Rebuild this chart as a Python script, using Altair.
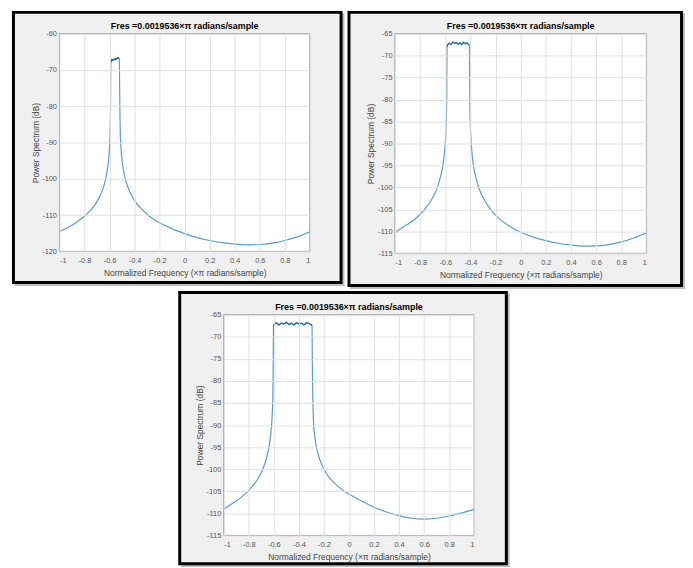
import altair as alt
import pandas as pd

# ---------------- data ----------------
x_ticks = [-1, -0.8, -0.6, -0.4, -0.2, 0, 0.2, 0.4, 0.6, 0.8, 1]
p1_y_ticks = [-120, -110, -100, -90, -80, -70, -60]
p23_y_ticks = [-115, -110, -105, -100, -95, -90, -85, -80, -75, -70, -65]

title_text = "Fres =0.0019536×π radians/sample"
x_title = "Normalized Frequency (×π radians/sample)"
y_title = "Power Spectrum (dB)"

p1_freq = [-1.0, -0.95, -0.9, -0.85, -0.8, -0.75, -0.72, -0.69, -0.66, -0.64,
           -0.62, -0.61, -0.6, -0.595, -0.592, -0.59,
           -0.587, -0.581, -0.575, -0.569, -0.563, -0.557, -0.551, -0.545, -0.539, -0.533, -0.527, -0.522,
           -0.519, -0.517, -0.515, -0.51, -0.5, -0.49, -0.47, -0.45, -0.42, -0.38,
           -0.33, -0.27, -0.2, -0.1, 0.0, 0.1, 0.2, 0.3, 0.4, 0.5, 0.6, 0.7,
           0.8, 0.9, 1.0]
p1_db = [-114.5, -113.7, -112.8, -111.6, -110.3, -108.6, -107.3, -105.6, -103.4, -101.3,
         -98.0, -95.5, -91.1, -86.8, -80.0, -68.0,
         -67.3, -67.1, -67.4, -67.1, -67.2, -66.9, -67.1, -66.8, -66.9, -66.6, -66.8, -66.9,
         -76.0, -82.0, -86.3, -90.6, -94.9, -97.4, -100.6, -102.6, -104.9, -107.0,
         -108.8, -110.6, -112.1, -113.8, -115.1, -116.2, -117.0, -117.6, -118.0, -118.2, -118.1, -117.7,
         -117.0, -116.0, -114.6]

p2_freq = [-1.0, -0.95, -0.9, -0.85, -0.8, -0.75, -0.72, -0.69, -0.66, -0.64,
           -0.62, -0.61, -0.6, -0.595, -0.59, -0.588, -0.586,
           -0.581, -0.567, -0.553, -0.539, -0.525, -0.511, -0.497, -0.483, -0.469, -0.455, -0.441, -0.427, -0.413,
           -0.408, -0.406, -0.403, -0.398, -0.39, -0.38, -0.365, -0.34, -0.31, -0.28,
           -0.25, -0.2, -0.15, -0.1, -0.05, 0.0, 0.1, 0.2, 0.3, 0.4, 0.5, 0.6, 0.7, 0.8, 0.9, 1.0]
p2_db = [-110.3, -109.3, -108.4, -107.4, -106.1, -104.5, -103.3, -101.8, -99.7, -97.8,
         -95.1, -93.0, -89.9, -87.5, -83.2, -78.0, -68.0,
         -67.5, -67.2, -67.4, -66.9, -67.2, -67.0, -67.4, -67.1, -67.5, -67.0, -67.3, -67.1, -67.5,
         -67.6, -76.0, -83.6, -87.8, -91.4, -94.1, -96.7, -99.5, -101.7, -103.3,
         -104.6, -106.3, -107.6, -108.6, -109.5, -110.2, -111.3, -112.1, -112.7, -113.1, -113.35, -113.3, -113.0, -112.4, -111.5, -110.3]

p3_freq = [-1.0, -0.95, -0.9, -0.85, -0.8, -0.75, -0.72, -0.69, -0.66, -0.64,
           -0.63, -0.62, -0.615, -0.61, -0.607, -0.605, -0.603,
           -0.598, -0.58, -0.56, -0.54, -0.52, -0.5, -0.48, -0.46, -0.44, -0.42, -0.4,
           -0.38, -0.36, -0.34, -0.32, -0.305,
           -0.295, -0.293, -0.29, -0.287, -0.282, -0.276, -0.268, -0.255, -0.242, -0.22, -0.19,
           -0.15, -0.11, -0.05, 0.0, 0.1, 0.2, 0.3, 0.4, 0.5, 0.6, 0.7, 0.8, 0.9, 1.0]
p3_db = [-109.0, -108.1, -107.2, -106.1, -104.8, -103.1, -101.8, -100.1, -97.6, -95.1,
         -93.3, -90.7, -88.6, -85.5, -82.0, -75.0, -67.6,
         -67.2, -66.8, -67.3, -66.9, -67.1, -66.7, -67.2, -66.9, -67.3, -66.8, -67.1,
         -66.9, -67.3, -66.8, -67.0, -67.2,
         -67.4, -75.0, -82.0, -86.0, -90.0, -91.9, -93.7, -95.6, -97.0, -98.8, -100.5,
         -102.1, -103.3, -104.7, -105.6, -107.2, -108.6, -109.7, -110.5, -111.1, -111.3, -111.1, -110.6, -109.9, -109.1]

FONT = "Liberation Sans"
LINE_COLOR = "#5a9ccb"
TOP_COLOR = "#2466a6"
HYPHEN_LABELS = "replace(datum.label, '\u2212', '-')"


def panel(freq, db, ydom, yvals, w, h, fl, fr, ft, fb):
    df = pd.DataFrame({"f": freq, "db": db})
    one = pd.DataFrame({"k": [0]})
    shadow = alt.Chart(one).mark_rect(
        fill="#8a8a8a", opacity=0.55
    ).encode(x=alt.value(fl + 1), x2=alt.value(w + fr + 3.5), y=alt.value(ft + 1), y2=alt.value(h + fb + 3.5))
    frame = alt.Chart(one).mark_rect(
        fill="#f0f0f0", stroke="#000000", strokeWidth=3
    ).encode(x=alt.value(fl), x2=alt.value(w + fr), y=alt.value(ft), y2=alt.value(h + fb))
    plotbg = alt.Chart(one).mark_rect(
        fill="#ffffff", stroke="#8c8c8c", strokeWidth=1
    ).encode(x=alt.value(0), x2=alt.value(w), y=alt.value(0), y2=alt.value(h))
    title = alt.Chart(one).mark_text(
        text=title_text, font=FONT, fontSize=9, fontWeight="bold", color="#000000",
        align="center", baseline="alphabetic"
    ).encode(x=alt.value(w / 2), y=alt.value(-5))
    line = alt.Chart(df).mark_line(
        color=LINE_COLOR, strokeWidth=1.2, interpolate="monotone"
    ).encode(
        x=alt.X("f:Q", scale=alt.Scale(domain=[-1, 1], nice=False, zero=False),
                axis=alt.Axis(values=x_ticks, format=".1~f", title=x_title, zindex=1,
                              labelExpr=HYPHEN_LABELS)),
        y=alt.Y("db:Q", scale=alt.Scale(domain=ydom, nice=False, zero=False),
                axis=alt.Axis(values=yvals, format="d", title=y_title, zindex=1,
                              labelExpr=HYPHEN_LABELS)),
    )
    top = line.transform_filter(alt.datum.db > -68.6).mark_line(
        color=TOP_COLOR, strokeWidth=1.2, interpolate="linear"
    )
    return alt.layer(shadow, frame, plotbg, title, line, top).properties(width=w, height=h)


p1 = panel(p1_freq, p1_db, [-120, -60], p1_y_ticks, 253, 220, -46.5, 31.5, -21.5, 31.5)
p2 = panel(p2_freq, p2_db, [-115, -65], p23_y_ticks, 254, 222, -46.5, 35.5, -21.5, 32.5)
p3 = panel(p3_freq, p3_db, [-115, -65], p23_y_ticks, 253, 223, -44.5, 32.5, -22.5, 28.5)

spacer = alt.Chart(pd.DataFrame({"k": [0]})).mark_text(text=" ").encode(
    x=alt.value(0), y=alt.value(0)
).properties(width=102, height=10)

top_row = alt.hconcat(p1, p2, spacing=3)
bottom_row = alt.hconcat(spacer, p3, spacing=18)

chart = alt.vconcat(top_row, bottom_row, spacing=2).properties(
    padding={"left": 4, "top": 0, "right": 0, "bottom": 0},
    background="#ffffff",
).configure_view(stroke=None).configure_axis(
    grid=True, gridColor="#e0e0e0", gridWidth=1, domain=False, ticks=False,
    labelFont=FONT, labelFontSize=7.5, labelColor="#555555",
    titleFont=FONT, titleFontSize=8.5, titleFontWeight="normal", titleColor="#444444",
).configure_axisX(labelPadding=5, titlePadding=4.5).configure_axisY(labelPadding=3, titlePadding=1.5)

chart.save("out.html", embed_options={"renderer": "svg", "actions": False})
